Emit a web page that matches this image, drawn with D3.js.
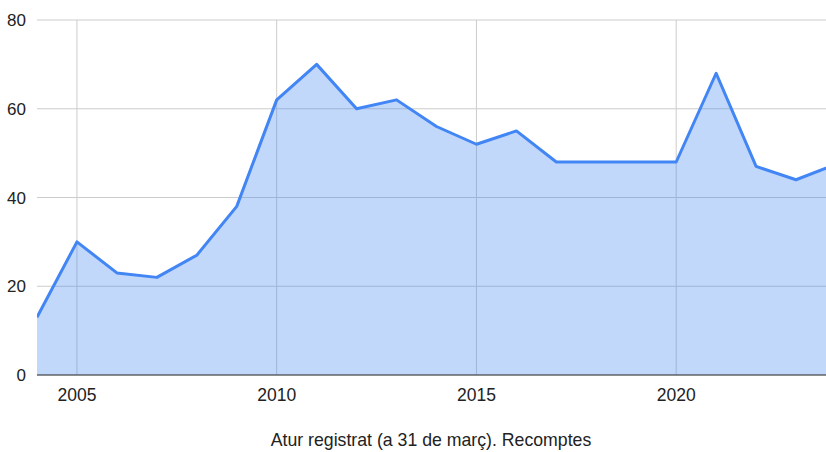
<!DOCTYPE html>
<html>
<head>
<meta charset="utf-8">
<script src="https://cdn.jsdelivr.net/npm/d3@7"></script>
<style>
  body { margin: 0; background: #fff; }
  text { font-family: Arial, "Liberation Sans", sans-serif; fill: #222; }
</style>
</head>
<body>
<div id="chart"></div>
<script>
const years = [2004, 2005, 2006, 2007, 2008, 2009, 2010, 2011, 2012, 2013, 2014,
               2015, 2016, 2017, 2018, 2019, 2020, 2021, 2022, 2023, 2024];
const values = [13, 30, 23, 22, 27, 38, 62, 70, 60, 62, 56,
                52, 55, 48, 48, 48, 48, 68, 47, 44, 47.5];
const xTicks = [2005, 2010, 2015, 2020];
const yTicks = [0, 20, 40, 60, 80];
const title = "Atur registrat (a 31 de març). Recomptes";

const w = 826;
const h = 452;
const padL = 37, padR = 826, padT = 20, padB = 375;

const xScale = d3.scaleLinear().domain([2004, 2023.75]).range([padL, padR]);
const yScale = d3.scaleLinear().domain([0, 80]).range([padB, padT]);

const svg = d3.select("#chart").append("svg")
  .attr("width", w)
  .attr("height", h);

svg.append("defs").append("clipPath").attr("id", "clip")
  .append("rect")
  .attr("x", padL).attr("y", 0)
  .attr("width", padR - padL).attr("height", padB + 1);

// grid
svg.append("g")
  .selectAll("line")
  .data(yTicks)
  .enter().append("line")
  .attr("x1", padL).attr("x2", padR)
  .attr("y1", d => yScale(d)).attr("y2", d => yScale(d))
  .attr("stroke", "#cccccc");

svg.append("g")
  .selectAll("line")
  .data(xTicks)
  .enter().append("line")
  .attr("x1", d => xScale(d)).attr("x2", d => xScale(d))
  .attr("y1", padT).attr("y2", padB)
  .attr("stroke", "#cccccc");

const data = years.map((y, i) => [y, values[i]]);

const area = d3.area()
  .x(d => xScale(d[0]))
  .y0(yScale(0))
  .y1(d => yScale(d[1]));

const line = d3.line()
  .x(d => xScale(d[0]))
  .y(d => yScale(d[1]));

const plot = svg.append("g").attr("clip-path", "url(#clip)");

plot.append("path")
  .datum(data)
  .attr("d", area)
  .attr("fill", "#4285f4")
  .attr("fill-opacity", 0.32);

plot.append("path")
  .datum(data)
  .attr("d", line)
  .attr("fill", "none")
  .attr("stroke", "#4285f4")
  .attr("stroke-width", 3)
  .attr("stroke-linejoin", "round");

// baseline
svg.append("line")
  .attr("x1", padL).attr("x2", padR)
  .attr("y1", yScale(0)).attr("y2", yScale(0))
  .attr("stroke", "#333333")
  .attr("stroke-width", 1.2);

// y labels
svg.append("g")
  .selectAll("text")
  .data(yTicks)
  .enter().append("text")
  .attr("x", 26)
  .attr("y", d => yScale(d))
  .attr("dy", "0.36em")
  .attr("text-anchor", "end")
  .style("font-size", "17px")
  .text(d => d);

// x labels
svg.append("g")
  .selectAll("text")
  .data(xTicks)
  .enter().append("text")
  .attr("x", d => xScale(d))
  .attr("y", 401)
  .attr("text-anchor", "middle")
  .style("font-size", "17.5px")
  .text(d => d);

svg.append("text")
  .attr("x", 431)
  .attr("y", 446)
  .attr("text-anchor", "middle")
  .style("font-size", "17.7px")
  .text(title);
</script>
</body>
</html>
